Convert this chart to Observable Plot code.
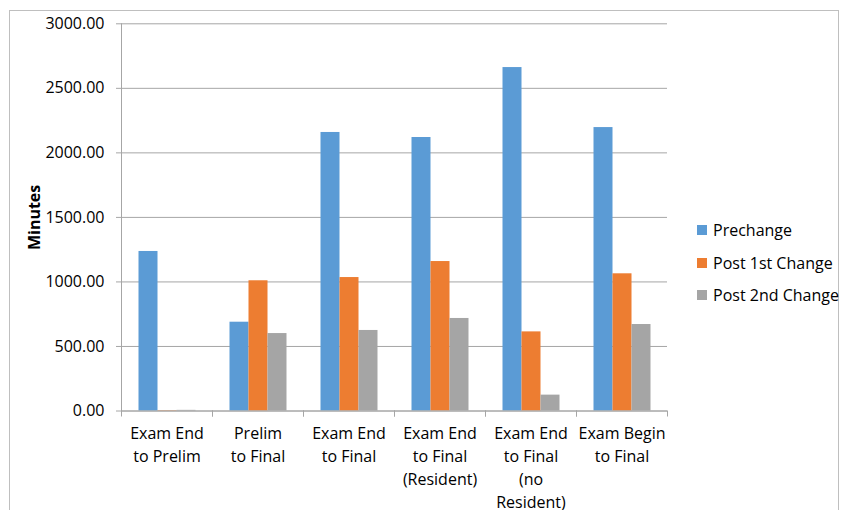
<!DOCTYPE html>
<html>
<head>
<meta charset="utf-8">
<script src="https://cdn.jsdelivr.net/npm/d3@7"></script>
<script src="https://cdn.jsdelivr.net/npm/@observablehq/plot@0.6"></script>
<style>
  body { margin: 0; background: #fff; }
  #wrap { position: relative; width: 843px; height: 510px; overflow: hidden; font-family: "Open Sans", sans-serif; }
  #border { position: absolute; left: 9px; top: 10px; width: 830px; height: 520px; border: 1px solid #BFBFBF; box-sizing: border-box; }
  #chart { position: absolute; left: 0; top: 0; }
  #legend { position: absolute; left: 697px; top: 219px; font-size: 16px; color: #000; }
  .item { display: flex; align-items: center; height: 22px; margin-bottom: 10.7px; }
  .sw { width: 10px; height: 10px; margin-right: 6px; }
  svg [aria-label="y-axis label"] text, svg [aria-label="y-axis label"] { font-weight: bold; }
</style>
</head>
<body>
<div id="wrap">
  <div id="border"></div>
  <div id="chart"></div>
  <div id="legend"></div>
</div>
<script>
const categories = [
  "Exam End\nto Prelim",
  "Prelim\nto Final",
  "Exam End\nto Final",
  "Exam End\nto Final\n(Resident)",
  "Exam End\nto Final\n(no\nResident)",
  "Exam Begin\nto Final"
];
const seriesNames = ["Prechange", "Post 1st Change", "Post 2nd Change"];
const colors = ["#5B9BD5", "#ED7D31", "#A5A5A5"];
const prechange = [1236, 688, 2158, 2119, 2661, 2196];
const post1st   = [3, 1009, 1034, 1158, 613, 1063];
const post2nd   = [5, 600, 624, 717, 123, 670];
const yTicks = [0, 500, 1000, 1500, 2000, 2500, 3000];

const seriesValues = [prechange, post1st, post2nd];
const data = [];
categories.forEach((c, i) => {
  seriesNames.forEach((s, j) => data.push({category: c, series: s, value: seriesValues[j][i]}));
});

const W = 843, H = 510;
const mTop = 23.3, mBottom = 99.5, mLeft = 120.5, mRight = 175.3;
const plotH = H - mTop - mBottom;
const gridColor = "#A6A6A6";

const chart = Plot.plot({
  width: W,
  height: H,
  marginTop: mTop,
  marginBottom: mBottom,
  marginLeft: mLeft,
  marginRight: mRight,
  style: {fontFamily: "Open Sans, sans-serif", fontSize: "16px", color: "#000", background: "transparent"},
  fx: {domain: categories, padding: 0, axis: null, label: null},
  x: {domain: seriesNames, axis: null, paddingInner: 0, paddingOuter: 0.78},
  y: {domain: [0, 3000], ticks: yTicks, axis: null},
  color: {domain: seriesNames, range: colors},
  marks: [
    Plot.gridY(yTicks, {stroke: gridColor, strokeOpacity: 1}),
    Plot.barY(data, {fx: "category", x: "series", y: "value", fill: "series", inset: 0}),
    Plot.ruleY([0], {stroke: gridColor}),
    Plot.frame({anchor: "left", facetAnchor: "left", stroke: gridColor}),
    Plot.frame({anchor: "left", stroke: gridColor, insetTop: plotH, insetBottom: -5}),
    Plot.frame({anchor: "right", stroke: gridColor, insetTop: plotH, insetBottom: -5}),
    Plot.axisFx({anchor: "bottom", tickSize: 0, tickPadding: 12, lineHeight: 1.44, label: null, fontSize: 16}),
    Plot.axisY(yTicks, {
      anchor: "left",
      tickSize: 5,
      tickPadding: 12,
      stroke: gridColor,
      fontSize: 16,
      tickFormat: d3.format(".2f"),
      label: "Minutes",
      labelAnchor: "center",
      labelOffset: 93,
      labelArrow: "none"
    })
  ]
});
document.getElementById("chart").appendChild(chart);

const legend = document.getElementById("legend");
seriesNames.forEach((s, j) => {
  const it = document.createElement("div");
  it.className = "item";
  const sw = document.createElement("div");
  sw.className = "sw";
  sw.style.background = colors[j];
  const tx = document.createElement("span");
  tx.textContent = s;
  it.appendChild(sw);
  it.appendChild(tx);
  legend.appendChild(it);
});
</script>
</body>
</html>
